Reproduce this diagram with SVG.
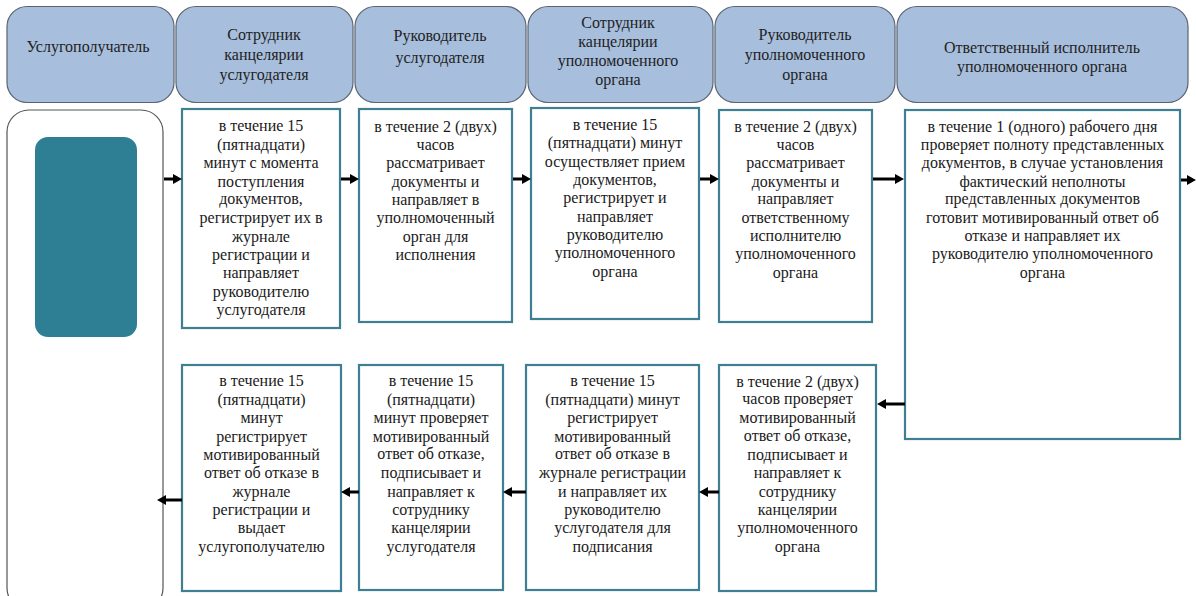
<svg xmlns="http://www.w3.org/2000/svg" width="1196" height="596" viewBox="0 0 1196 596" font-family="Liberation Serif, Times New Roman, serif">
<defs>
<style>
.hdr{fill:#a7bedd;stroke:#5a6470;stroke-width:1.2}
.hdr-t{font-family:'Liberation Serif','Times New Roman',serif;font-size:16px;fill:#222;text-anchor:middle}
.box{fill:#fff;stroke:#3f7f92;stroke-width:2.2}
.t{font-family:'Liberation Serif','Times New Roman',serif;font-size:16px;fill:#1a1a1a;text-anchor:middle}
.arr{stroke:#000;stroke-width:3;fill:none;marker-end:url(#ah)}
</style>
<marker id="ah" markerUnits="userSpaceOnUse" markerWidth="9" markerHeight="10" refX="2" refY="5" orient="auto">
<path d="M0,0 L9,5 L0,10 z" fill="#000"/>
</marker>
</defs>
<rect width="1196" height="596" fill="#fff"/>

<g id="header1"><rect class="hdr" x="7" y="6.5" width="167" height="96" rx="20"/><text class="hdr-t" x="88" y="52">Услугополучатель</text></g>
<g id="header2"><rect class="hdr" x="176" y="6.5" width="177" height="96" rx="20"/><text class="hdr-t" x="264" y="40">Сотрудник</text><text class="hdr-t" x="264" y="60">канцелярии</text><text class="hdr-t" x="264" y="80">услугодателя</text></g>
<g id="header3"><rect class="hdr" x="355" y="6.5" width="171" height="96" rx="20"/><text class="hdr-t" x="440" y="41">Руководитель</text><text class="hdr-t" x="440" y="63">услугодателя</text></g>
<g id="header4"><rect class="hdr" x="528" y="6.5" width="185" height="96" rx="20"/><text class="hdr-t" x="618" y="28">Сотрудник</text><text class="hdr-t" x="618" y="47">канцелярии</text><text class="hdr-t" x="618" y="66">уполномоченного</text><text class="hdr-t" x="618" y="85">органа</text></g>
<g id="header5"><rect class="hdr" x="715" y="6.5" width="180" height="96" rx="20"/><text class="hdr-t" x="805" y="40">Руководитель</text><text class="hdr-t" x="805" y="60">уполномоченного</text><text class="hdr-t" x="805" y="80">органа</text></g>
<g id="header6"><rect class="hdr" x="897" y="6.5" width="291" height="96" rx="20"/><text class="hdr-t" x="1042" y="53">Ответственный исполнитель</text><text class="hdr-t" x="1042" y="72">уполномоченного органа</text></g>

<g id="client"><rect x="7" y="110" width="156" height="500" rx="22" fill="#fff" stroke="#555" stroke-width="1.2"/><rect x="35" y="137" width="102" height="200" rx="13" fill="#2e7f93"/></g>

<g id="s1"><rect class="box" x="182" y="109" width="158" height="219"/>
<text class="t"><tspan x="261" y="131">в течение 15</tspan><tspan x="261" y="150">(пятнадцати)</tspan><tspan x="261" y="168">минут с момента</tspan><tspan x="261" y="187">поступления</tspan><tspan x="261" y="204">документов,</tspan><tspan x="261" y="223">регистрирует их в</tspan><tspan x="261" y="242">журнале</tspan><tspan x="261" y="260">регистрации и</tspan><tspan x="261" y="278">направляет</tspan><tspan x="261" y="297">руководителю</tspan><tspan x="261" y="315">услугодателя</tspan></text></g>

<g id="s2"><rect class="box" x="359" y="109" width="153" height="213"/>
<text class="t"><tspan x="435.5" y="132">в течение 2 (двух)</tspan><tspan x="435.5" y="150">часов</tspan><tspan x="435.5" y="168">рассматривает</tspan><tspan x="435.5" y="187">документы и</tspan><tspan x="435.5" y="205">направляет  в</tspan><tspan x="435.5" y="223">уполномоченный</tspan><tspan x="435.5" y="242">орган для</tspan><tspan x="435.5" y="260">исполнения</tspan></text></g>

<g id="s3"><rect class="box" x="531" y="108" width="168" height="211"/>
<text class="t"><tspan x="615" y="130">в течение 15</tspan><tspan x="615" y="148">(пятнадцати) минут</tspan><tspan x="615" y="167">осуществляет прием</tspan><tspan x="615" y="185">документов,</tspan><tspan x="615" y="203">регистрирует и</tspan><tspan x="615" y="222">направляет</tspan><tspan x="615" y="240">руководителю</tspan><tspan x="615" y="258">уполномоченного</tspan><tspan x="615" y="277">органа</tspan></text></g>

<g id="s4"><rect class="box" x="719" y="110" width="153" height="212"/>
<text class="t"><tspan x="795.5" y="132">в течение 2 (двух)</tspan><tspan x="795.5" y="150">часов</tspan><tspan x="795.5" y="168">рассматривает</tspan><tspan x="795.5" y="187">документы и</tspan><tspan x="795.5" y="204">направляет</tspan><tspan x="795.5" y="223">ответственному</tspan><tspan x="795.5" y="241">исполнителю</tspan><tspan x="795.5" y="259">уполномоченного</tspan><tspan x="795.5" y="278">органа</tspan></text></g>

<g id="s5"><rect class="box" x="905" y="110" width="275" height="329"/>
<text class="t"><tspan x="1042.5" y="132">в течение 1 (одного) рабочего дня</tspan><tspan x="1042.5" y="150">проверяет полноту представленных</tspan><tspan x="1042.5" y="168">документов, в случае установления</tspan><tspan x="1042.5" y="187">фактический неполноты</tspan><tspan x="1042.5" y="204">представленных документов</tspan><tspan x="1042.5" y="223">готовит мотивированный ответ об</tspan><tspan x="1042.5" y="241">отказе и направляет их</tspan><tspan x="1042.5" y="259">руководителю уполномоченного</tspan><tspan x="1042.5" y="278">органа</tspan></text></g>

<g id="s6"><rect class="box" x="719" y="365" width="157" height="226"/>
<text class="t"><tspan x="797.5" y="387">в течение 2 (двух)</tspan><tspan x="797.5" y="404">часов проверяет</tspan><tspan x="797.5" y="423">мотивированный</tspan><tspan x="797.5" y="441">ответ об отказе,</tspan><tspan x="797.5" y="460">подписывает и</tspan><tspan x="797.5" y="478">направляет к</tspan><tspan x="797.5" y="497">сотруднику</tspan><tspan x="797.5" y="515">канцелярии</tspan><tspan x="797.5" y="533">уполномоченного</tspan><tspan x="797.5" y="552">органа</tspan></text></g>

<g id="s7"><rect class="box" x="526" y="365" width="173" height="225"/>
<text class="t"><tspan x="612.5" y="386">в течение 15</tspan><tspan x="612.5" y="405">(пятнадцати) минут</tspan><tspan x="612.5" y="423">регистрирует</tspan><tspan x="612.5" y="442">мотивированный</tspan><tspan x="612.5" y="459">ответ об отказе в</tspan><tspan x="612.5" y="478">журнале регистрации</tspan><tspan x="612.5" y="497">и направляет их</tspan><tspan x="612.5" y="515">руководителю</tspan><tspan x="612.5" y="533">услугодателя для</tspan><tspan x="612.5" y="552">подписания</tspan></text></g>

<g id="s8"><rect class="box" x="359" y="365" width="144" height="225"/>
<text class="t"><tspan x="431" y="386">в течение 15</tspan><tspan x="431" y="405">(пятнадцати)</tspan><tspan x="431" y="423">минут проверяет</tspan><tspan x="431" y="442">мотивированный</tspan><tspan x="431" y="459">ответ об отказе,</tspan><tspan x="431" y="478">подписывает и</tspan><tspan x="431" y="497">направляет к</tspan><tspan x="431" y="515">сотруднику</tspan><tspan x="431" y="533">канцелярии</tspan><tspan x="431" y="552">услугодателя</tspan></text></g>

<g id="s9"><rect class="box" x="182" y="365" width="159" height="226"/>
<text class="t"><tspan x="261.5" y="386">в течение 15</tspan><tspan x="261.5" y="405">(пятнадцати)</tspan><tspan x="261.5" y="423">минут</tspan><tspan x="261.5" y="442">регистрирует</tspan><tspan x="261.5" y="460">мотивированный</tspan><tspan x="261.5" y="478">ответ об отказе в</tspan><tspan x="261.5" y="497">журнале</tspan><tspan x="261.5" y="515">регистрации и</tspan><tspan x="261.5" y="533">выдает</tspan><tspan x="261.5" y="552">услугополучателю</tspan></text></g>

<g id="connectors">
<line class="arr" x1="164" y1="179" x2="175" y2="179"/>
<line class="arr" x1="341" y1="179" x2="352" y2="179"/>
<line class="arr" x1="513" y1="179" x2="524" y2="179"/>
<line class="arr" x1="700" y1="179" x2="712" y2="179"/>
<line class="arr" x1="873" y1="179" x2="897" y2="179"/>
<line class="arr" x1="1181" y1="180" x2="1189" y2="180"/>
<line class="arr" x1="905" y1="404" x2="884" y2="404"/>
<line class="arr" x1="719" y1="492" x2="706" y2="492"/>
<line class="arr" x1="526" y1="492" x2="510" y2="492"/>
<line class="arr" x1="359" y1="492" x2="348" y2="492"/>
<line class="arr" x1="182" y1="500" x2="164" y2="500"/>
</g>
</svg>
